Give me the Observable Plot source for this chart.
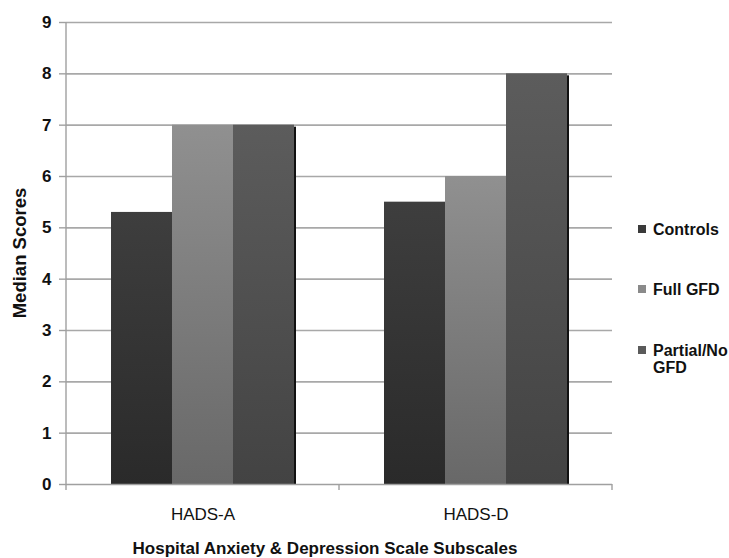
<!DOCTYPE html>
<html>
<head>
<meta charset="utf-8">
<script src="https://cdn.jsdelivr.net/npm/d3@7"></script>
<script src="https://cdn.jsdelivr.net/npm/@observablehq/plot@0.6"></script>
<style>
  body { margin: 0; background: #fff; }
  #chart { position: relative; width: 729px; height: 558px; font-family: "Liberation Sans", Arial, sans-serif; color: #111; }
  #chart svg { display: block; }
  .ytitle { position: absolute; left: 19.5px; top: 253px; transform: translate(-50%, -50%) rotate(-90deg); font-size: 18.5px; font-weight: bold; white-space: nowrap; }
  .xtitle { position: absolute; left: 325px; top: 549px; transform: translate(-50%, -50%); font-size: 17px; font-weight: bold; white-space: nowrap; }
  .legend-item { position: absolute; left: 638px; display: flex; align-items: flex-start; font-size: 16px; font-weight: bold; line-height: 17px; }
  .legend-item .sw { width: 8px; height: 8px; margin-top: 4.5px; margin-right: 7px; flex: none; }
</style>
</head>
<body>
<div id="chart"></div>
<script>
// Median HADS scores by subscale and group
const subscales = ["HADS-A", "HADS-D"];
const groups = ["Controls", "Full GFD", "Partial/No GFD"];
const controls = [5.3, 5.5];
const fullGFD = [7, 6];
const partialGFD = [7, 8];
const yTicks = [0, 1, 2, 3, 4, 5, 6, 7, 8, 9];

const seriesValues = [controls, fullGFD, partialGFD];
const rows = groups.flatMap((g, gi) =>
  subscales.map((s, si) => ({subscale: s, group: g, value: seriesValues[gi][si]}))
);

// vertical shading per group (top colour, bottom colour)
const gradients = {
  "Controls": ["#3e3e3e", "#2a2a2a"],
  "Full GFD": ["#909090", "#686868"],
  "Partial/No GFD": ["#5c5c5c", "#434343"]
};
const swatch = {"Controls": "#3a3a3a", "Full GFD": "#8a8a8a", "Partial/No GFD": "#5a5a5a"};
const gradId = g => "grad-" + groups.indexOf(g);

const barMarks = groups.map(g =>
  Plot.barY(rows.filter(d => d.group === g), {
    fx: "subscale", x: "group", y: "value", fill: `url(#${gradId(g)})`
  })
);

const chart = Plot.plot({
  width: 729,
  height: 558,
  marginLeft: 65,
  marginRight: 117,
  marginTop: 22,
  marginBottom: 74,
  style: {fontFamily: '"Liberation Sans", Arial, sans-serif', background: "#fff", color: "#111"},
  fx: {domain: subscales, padding: 0, label: null},
  x: {domain: groups, paddingInner: 0, paddingOuter: 0.72, axis: null},
  y: {domain: [0, 9], label: null},
  marks: [
    Plot.gridY(yTicks.slice(1), {stroke: "#a8a8a8", strokeOpacity: 1, strokeWidth: 1.6}),
    // drop shadow behind each bar
    Plot.barY(rows, {fx: "subscale", x: "group", y: "value", fill: "#111", dx: 2, insetTop: 2}),
    ...barMarks,
    Plot.ruleY([0], {stroke: "#a0a0a0", strokeWidth: 1.4}),
    Plot.axisY(yTicks, {tickSize: 7, tickPadding: 8, tickFormat: d => String(d), fontSize: 17, fontWeight: "bold", stroke: "#a0a0a0", strokeWidth: 1.4, fill: "#111", label: null}),
    Plot.axisFx({anchor: "bottom", tickSize: 0, tickPadding: 23, fontSize: 17, fill: "#111", label: null})
  ]
});

const svg = d3.select(chart);
const defs = svg.insert("defs", ":first-child");
for (const g of groups) {
  const lg = defs.append("linearGradient").attr("id", gradId(g))
    .attr("x1", 0).attr("y1", 0).attr("x2", 0).attr("y2", 1);
  lg.append("stop").attr("offset", "0%").attr("stop-color", gradients[g][0]);
  lg.append("stop").attr("offset", "100%").attr("stop-color", gradients[g][1]);
}

// y axis line and category boundary ticks, placed from the chart's scales
const fx = chart.scale("fx");
const y = chart.scale("y");
const y0 = y.apply(0), yTop = y.apply(9);
const left = fx.apply(subscales[0]);
const bounds = [...subscales.map(s => fx.apply(s)), fx.apply(subscales[subscales.length - 1]) + fx.bandwidth];
const axisG = svg.append("g").attr("stroke", "#a0a0a0").attr("stroke-width", 1.4);
axisG.append("line").attr("x1", left).attr("x2", left).attr("y1", yTop).attr("y2", y0);
for (const b of bounds) {
  axisG.append("line").attr("x1", b).attr("x2", b).attr("y1", y0).attr("y2", y0 + 6);
}

const root = document.getElementById("chart");
root.appendChild(chart);

const yt = document.createElement("div");
yt.className = "ytitle";
yt.textContent = "Median Scores";
root.appendChild(yt);

const xt = document.createElement("div");
xt.className = "xtitle";
xt.textContent = "Hospital Anxiety & Depression Scale Subscales";
root.appendChild(xt);

// legend
const legendTops = [220.5, 280.5, 341.5];
const legendLines = [["Controls"], ["Full GFD"], ["Partial/No", "GFD"]];
groups.forEach((g, i) => {
  const item = document.createElement("div");
  item.className = "legend-item";
  item.style.top = legendTops[i] + "px";
  const sw = document.createElement("span");
  sw.className = "sw";
  sw.style.background = swatch[g];
  const label = document.createElement("span");
  legendLines[i].forEach((t, j) => {
    if (j) label.appendChild(document.createElement("br"));
    label.appendChild(document.createTextNode(t));
  });
  item.appendChild(sw);
  item.appendChild(label);
  root.appendChild(item);
});
</script>
</body>
</html>
